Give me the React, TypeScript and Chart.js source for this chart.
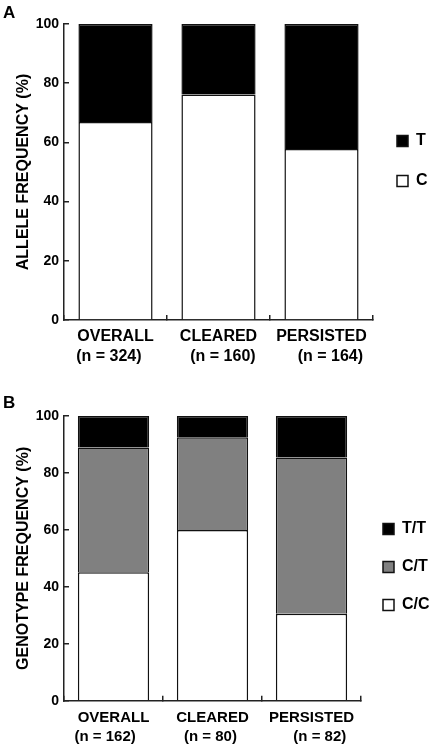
import React, { useEffect, useRef } from 'react';
import { Chart, registerables } from 'chart.js';

Chart.register(...registerables);

// ---- data ----
const categories = ['OVERALL', 'CLEARED', 'PERSISTED'];
const alleleCounts = ['(n = 324)', '(n = 160)', '(n = 164)'];
const genotypeCounts = ['(n = 162)', '(n = 80)', '(n = 82)'];

const alleleC = [66.9, 76.2, 57.8];
const alleleT = [33.1, 23.8, 42.2];

const genoCC = [45.1, 60.0, 30.5];
const genoCT = [43.8, 32.5, 54.9];
const genoTT = [11.1, 7.5, 14.6];

const yTicks = [0, 20, 40, 60, 80, 100];

// ---- layout helpers (not data) ----
const shiftA = [-3, 2, 4];
const shiftB = [-4, -1, 4];
const padLabel = (s: string, n: number) => (n > 0 ? ' '.repeat(n) + s : s + ' '.repeat(-n));

const FONT = 'Arial, "Liberation Sans", Helvetica, sans-serif';
const AXIS = '#222';

function makeConfig(p: any): any {
  return {
    type: 'bar',
    data: {
      labels: categories.map((c, i) => [c, padLabel(p.counts[i], p.shift[i])]),
      datasets: p.datasets,
    },
    options: {
      responsive: false,
      animation: false,
      events: [],
      layout: { padding: { top: p.padTop, left: 3, right: 0, bottom: 0 } },
      datasets: { bar: { categoryPercentage: 1, barPercentage: 0.72 } },
      scales: {
        x: {
          stacked: true,
          afterFit: (s: any) => { s.height = p.xHeight; },
          border: { display: true, color: AXIS, width: 1.5 },
          grid: { display: true, offset: true, drawOnChartArea: false, drawTicks: true, tickLength: -5, color: AXIS, lineWidth: 1.5 },
          ticks: { color: '#000', padding: 12, autoSkip: false, maxRotation: 0, font: { family: FONT, size: p.xFont, weight: 'bold', lineHeight: p.xLine } },
        },
        y: {
          stacked: true,
          min: 0,
          max: 100,
          afterFit: (s: any) => { s.width = 61; },
          afterBuildTicks: (s: any) => { s.ticks = yTicks.map((v) => ({ value: v })); },
          border: { display: true, color: AXIS, width: 1.5 },
          grid: { display: true, drawOnChartArea: false, drawTicks: true, tickLength: -5, color: AXIS, lineWidth: 1.5 },
          ticks: { color: '#000', padding: 10, font: { family: FONT, size: 14, weight: 'bold' } },
          title: { display: true, text: p.yTitle, color: '#000', padding: { top: 11, bottom: 0 }, font: { family: FONT, size: 16, weight: 'bold' } },
        },
      },
      plugins: {
        tooltip: { enabled: false },
        title: { display: true, text: p.letter, align: 'start', color: '#000', padding: { top: 0, bottom: p.titleBottom }, font: { family: FONT, size: 17, weight: 'bold' } },
        legend: {
          position: 'right',
          align: 'start',
          reverse: true,
          maxWidth: p.legendWidth,
          title: { display: true, text: ' ', padding: { top: p.legendTop, bottom: 0 }, font: { family: FONT, size: 16 } },
          labels: { boxWidth: 11, boxHeight: 11, padding: p.legendPad, color: '#000', font: { family: FONT, size: 16, weight: 'bold' } },
        },
      },
    },
  };
}

const seg = (label: string, data: number[], bg: string) => ({
  label,
  data,
  backgroundColor: bg,
  borderColor: '#111',
  borderWidth: 1.5,
});

export default function App() {
  const refA = useRef<HTMLCanvasElement>(null);
  const refB = useRef<HTMLCanvasElement>(null);

  useEffect(() => {
    const a = new Chart(refA.current as HTMLCanvasElement, makeConfig({
      counts: alleleCounts,
      shift: shiftA,
      datasets: [seg('C', alleleC, '#ffffff'), seg('T', alleleT, '#000000')],
      padTop: 3,
      titleBottom: 0.6,
      letter: 'A',
      xHeight: 50,
      xFont: 16,
      xLine: 1.25,
      yTitle: 'ALLELE FREQUENCY (%)',
      legendWidth: 61,
      legendTop: 86.8,
      legendPad: 24,
    }));
    const b = new Chart(refB.current as HTMLCanvasElement, makeConfig({
      counts: genotypeCounts,
      shift: shiftB,
      datasets: [seg('C/C', genoCC, '#ffffff'), seg('C/T', genoCT, '#808080'), seg('T/T', genoTT, '#000000')],
      padTop: 23,
      titleBottom: 2.6,
      letter: 'B',
      xHeight: 45.3,
      xFont: 15,
      xLine: 1.3,
      yTitle: 'GENOTYPE FREQUENCY (%)',
      legendWidth: 73,
      legendTop: 86.8,
      legendPad: 22,
    }));
    return () => {
      a.destroy();
      b.destroy();
    };
  }, []);

  return (
    <div style={{ position: 'absolute', left: 0, top: 0, width: 434, height: 746, background: '#fff' }}>
      <canvas ref={refA} width={434} height={370} style={{ display: 'block', width: 434, height: 370 }} />
      <canvas ref={refB} width={434} height={376} style={{ display: 'block', width: 434, height: 376 }} />
    </div>
  );
}
